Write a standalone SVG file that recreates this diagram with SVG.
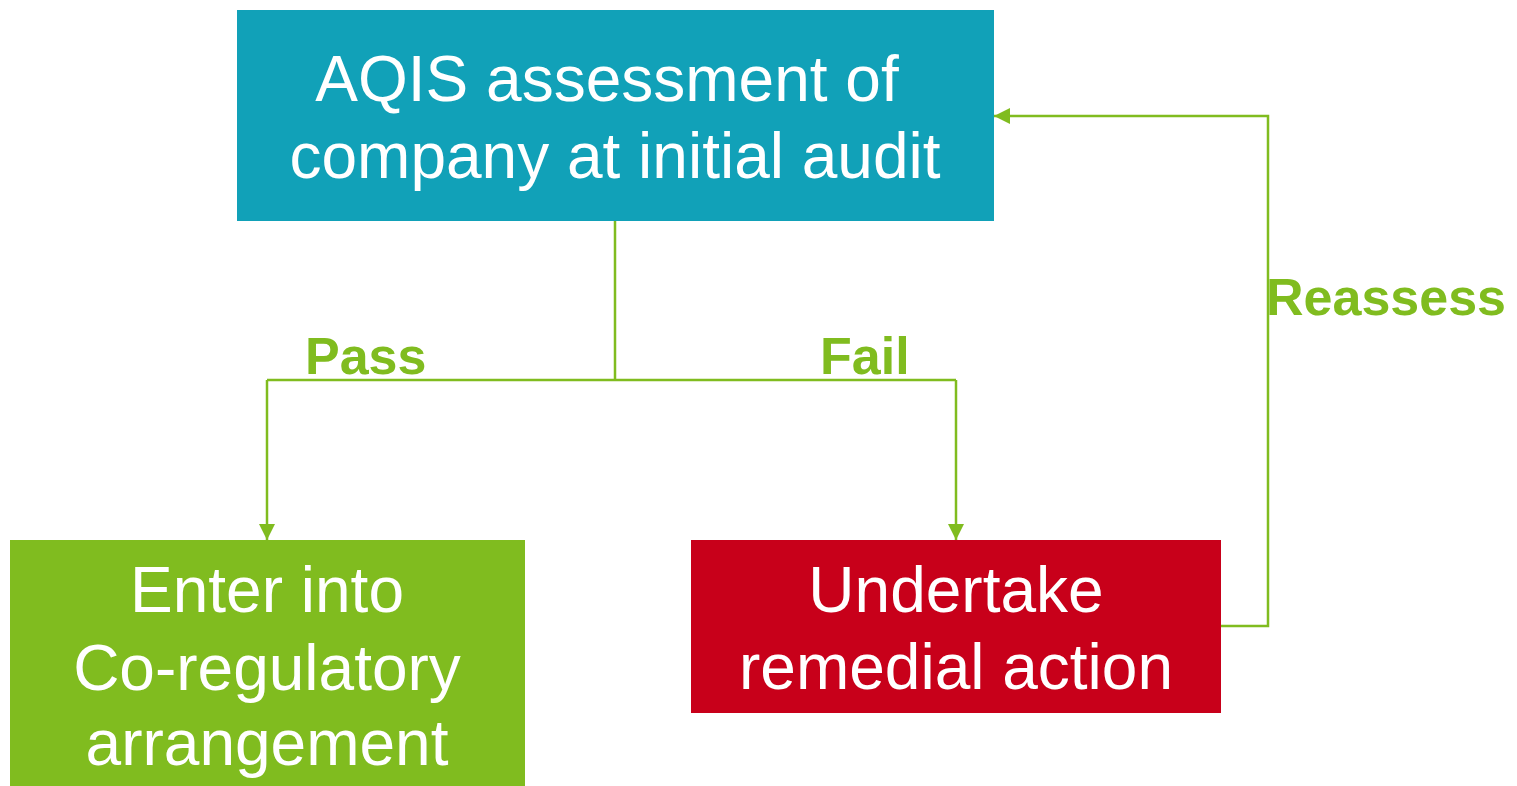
<svg xmlns="http://www.w3.org/2000/svg" width="1517" height="786" viewBox="0 0 1517 786">
<style>
.t{font-family:"Liberation Sans",Arial,sans-serif;font-size:64px;fill:#fff;text-anchor:middle}
.l{font-family:"Liberation Sans",Arial,sans-serif;font-size:52px;font-weight:bold;fill:#80BC1F}
.c{fill:none;stroke:#80BC1F;stroke-width:2.5}
</style>
<defs>
<marker id="ah" markerWidth="16" markerHeight="16" viewBox="0 0 16 16" refX="16" refY="8" orient="auto" markerUnits="userSpaceOnUse">
<path d="M0,0 L16,8 L0,16 Z" fill="#80BC1F"/>
</marker>
</defs>
<rect width="1517" height="786" fill="#fff"/>
<g id="connectors">
<path class="c" d="M615,221 V380 M267,380 H956"/>
<path class="c" d="M267,380 V540" marker-end="url(#ah)"/>
<path class="c" d="M956,380 V540" marker-end="url(#ah)"/>
<path class="c" d="M1221,626 H1268 V116 H994" marker-end="url(#ah)"/>
<text class="l" x="305" y="374">Pass</text>
<text class="l" x="820" y="374">Fail</text>
<text class="l" x="1266" y="315">Reassess</text>
</g>
<g id="assessment">
<rect x="237" y="10" width="757" height="211" fill="#11A1B8"/>
<text class="t" x="607" y="101">AQIS assessment of</text>
<text class="t" x="615" y="178">company at initial audit</text>
</g>
<g id="coregulatory">
<rect x="10" y="540" width="515" height="246" fill="#80BC1F"/>
<text class="t" x="267" y="612">Enter into</text>
<text class="t" x="267" y="690">Co-regulatory</text>
<text class="t" x="267" y="765">arrangement</text>
</g>
<g id="remedial">
<rect x="691" y="540" width="530" height="173" fill="#C8001A"/>
<text class="t" x="956" y="612">Undertake</text>
<text class="t" x="956" y="689">remedial action</text>
</g>
</svg>
